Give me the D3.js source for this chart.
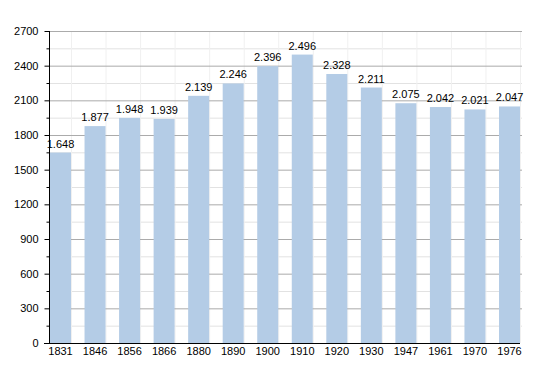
<!DOCTYPE html>
<html>
<head>
<meta charset="utf-8">
<script src="https://cdn.jsdelivr.net/npm/d3@7"></script>
<style>
  body { margin: 0; background: #fff; }
  text { font-family: "Liberation Sans", Arial, sans-serif; }
</style>
</head>
<body>
<div id="chart"></div>
<script>
const years = ['1831', '1846', '1856', '1866', '1880', '1890', '1900', '1910', '1920', '1930', '1947', '1961', '1970', '1976'];
const population = [1648, 1877, 1948, 1939, 2139, 2246, 2396, 2496, 2328, 2211, 2075, 2042, 2021, 2047];
const yTicks = [0, 300, 600, 900, 1200, 1500, 1800, 2100, 2400, 2700];
const yMinorTicks = [150, 450, 750, 1050, 1350, 1650, 1950, 2250, 2550];

const width = 550;
const height = 373;
const plotLeft = 49;
const plotRight = 520;
const plotTop = 31;
const plotBottom = 343;

const fmt = (v) => d3.format(',')(v).replace(/,/g, '.');

const svg = d3
  .select('#chart')
  .append('svg')
  .attr('width', width)
  .attr('height', height);

const x = d3
  .scaleBand()
  .domain(years)
  .range([plotLeft + 1, plotRight])
  .paddingInner(0.392)
  .paddingOuter(0);

const y = d3.scaleLinear().domain([0, 2700]).range([plotBottom, plotTop]);

// minor gridlines
svg
  .append('g')
  .selectAll('line')
  .data(yMinorTicks)
  .join('line')
  .attr('x1', plotLeft)
  .attr('x2', plotRight + 2)
  .attr('y1', (d) => y(d) + 0.5)
  .attr('y2', (d) => y(d) + 0.5)
  .attr('stroke', '#e2e2e2');

// faint vertical lines
svg
  .append('g')
  .selectAll('line')
  .data(years)
  .join('line')
  .attr('x1', (d) => x(d) + x.bandwidth() + 0.5)
  .attr('x2', (d) => x(d) + x.bandwidth() + 0.5)
  .attr('y1', plotTop)
  .attr('y2', plotBottom)
  .attr('stroke', '#f0f0f0');

// major gridlines
svg
  .append('g')
  .selectAll('line')
  .data(yTicks.filter((d) => d > 0))
  .join('line')
  .attr('x1', plotLeft)
  .attr('x2', plotRight + 2)
  .attr('y1', (d) => y(d) + 0.5)
  .attr('y2', (d) => y(d) + 0.5)
  .attr('stroke', '#ababab');

// bars
svg
  .append('g')
  .selectAll('rect')
  .data(population)
  .join('rect')
  .attr('x', (d, i) => x(years[i]))
  .attr('y', (d) => y(d))
  .attr('width', x.bandwidth())
  .attr('height', (d) => plotBottom - y(d))
  .attr('fill', '#b4cce6');

// value labels
svg
  .append('g')
  .attr('font-size', 11)
  .attr('text-anchor', 'middle')
  .attr('fill', '#000')
  .selectAll('text')
  .data(population)
  .join('text')
  .attr('x', (d, i) => x(years[i]) + x.bandwidth() / 2)
  .attr('y', (d) => y(d) - 5)
  .text((d) => fmt(d));

// y axis
const yAxis = svg
  .append('g')
  .attr('transform', `translate(${plotLeft + 0.5},0)`)
  .call(d3.axisLeft(y).tickValues(yTicks).tickSize(5).tickPadding(6).tickFormat(d3.format('d')));
yAxis.select('.domain').attr('d', `M0,${plotTop}V${plotBottom}`);
yAxis.selectAll('text').attr('font-size', 11).attr('font-family', '"Liberation Sans", Arial, sans-serif');

svg
  .append('g')
  .attr('transform', `translate(${plotLeft + 0.5},0)`)
  .call(d3.axisLeft(y).tickValues(yMinorTicks).tickSize(3).tickFormat(''))
  .call((g) => g.select('.domain').remove());

// x axis
const xAxis = svg
  .append('g')
  .attr('transform', `translate(0,${plotBottom + 0.5})`)
  .call(d3.axisBottom(x).tickSize(0).tickPadding(4));
xAxis.select('.domain').attr('d', `M${plotLeft - 5},0H${plotRight}`);
xAxis.selectAll('text').attr('font-size', 11).attr('font-family', '"Liberation Sans", Arial, sans-serif');
</script>
</body>
</html>
